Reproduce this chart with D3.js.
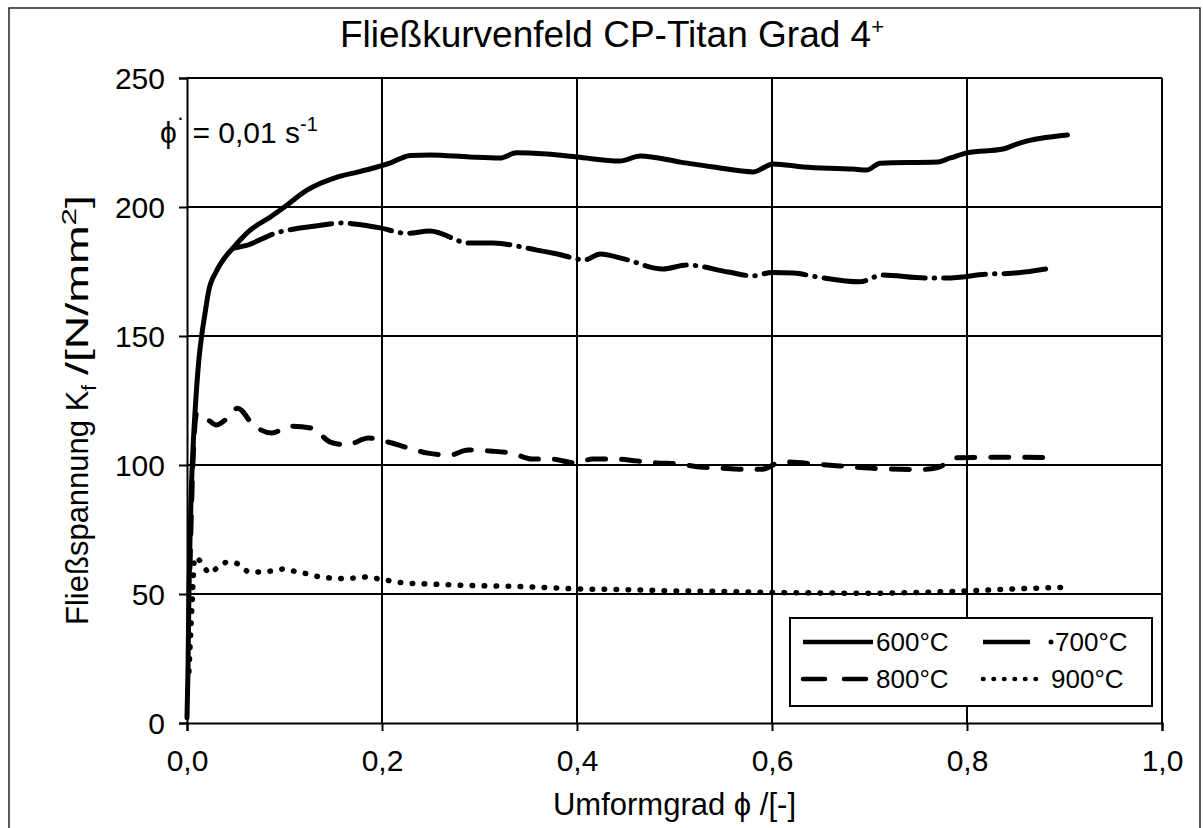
<!DOCTYPE html>
<html><head><meta charset="utf-8">
<script src="https://cdn.jsdelivr.net/npm/d3@7"></script>
<style>body{margin:0;background:#fff}svg{display:block}text{font-family:"Liberation Sans",Arial,sans-serif;fill:#000}</style>
</head><body><svg id="c" width="1203" height="828"></svg>
<script>
const xTicks=[0,0.2,0.4,0.6,0.8,1.0];
const yTicks=[0,50,100,150,200,250];
const legendLabels=["600°C","700°C","800°C","900°C"];
const phi600=[0,0.001,0.002,0.004,0.006,0.009,0.012,0.015,0.019,0.022,0.03,0.04,0.047,0.054,0.063,0.072,0.085,0.1,0.123,0.154,0.175,0.195,0.208,0.229,0.25,0.29,0.321,0.338,0.369,0.40,0.444,0.465,0.506,0.54,0.581,0.601,0.632,0.683,0.697,0.711,0.769,0.783,0.80,0.837,0.854,0.903];
const k600=[2,20,50,85,105,125,140,150,160,167,175,181,184,187,190.5,193,196,200,206.5,211.6,213.5,215.5,217,220,220.2,219.4,219,221,220.5,219.4,217.8,219.8,217.4,215.5,213.6,216.7,215.5,214.7,214.3,217,217.4,219,221,222.5,224.8,227.9];
const phi700=[0.047,0.06,0.092,0.11,0.13,0.159,0.18,0.198,0.225,0.249,0.29,0.314,0.359,0.38,0.408,0.424,0.447,0.488,0.513,0.555,0.58,0.6,0.622,0.646,0.69,0.713,0.757,0.779,0.822,0.846,0.888];
const k700=[184,185,190,191.5,192.5,193.8,193,191.9,189.8,190.7,186,186,183.3,181.8,179.5,181.8,180,176,177.5,174.8,173.3,174.6,174.4,172.9,171,173.6,172.5,172.5,174,174.3,176.4];
const phi800=[0.003,0.006,0.01,0.022,0.03,0.039,0.052,0.068,0.087,0.106,0.128,0.147,0.164,0.186,0.206,0.227,0.247,0.27,0.288,0.311,0.333,0.354,0.374,0.398,0.416,0.439,0.461,0.482,0.504,0.526,0.547,0.567,0.59,0.61,0.65,0.7,0.75,0.77,0.79,0.84,0.89];
const k800=[60,100,120,117.4,115.5,117.4,122,115.5,112.4,115,114.3,108.9,107.8,110.5,108.9,106.6,104.6,103.9,105.8,105.4,104.6,102.3,102.3,100.8,102.3,102.3,101.6,100.8,100.4,99.2,98.8,98.4,98.4,101.2,100.2,98.8,98.2,99,102.8,103,102.8];
const phi900=[0.002,0.005,0.008,0.016,0.023,0.032,0.042,0.053,0.064,0.076,0.088,0.1,0.113,0.124,0.136,0.148,0.16,0.172,0.184,0.197,0.21,0.222,0.246,0.3,0.35,0.4,0.45,0.5,0.55,0.6,0.65,0.7,0.75,0.8,0.85,0.9];
const k900=[20,45,64.3,61.6,58,60.5,62.4,61.6,58.5,58.5,59,59.7,58.5,57.8,56.6,56.2,56,56.2,56.6,55.8,55,54.3,53.9,53.2,52.8,52,51.7,51.2,51,50.6,50.4,50.3,50.6,51.2,52,52.6];

const svg=d3.select("#c");
const L=187,R=1162,T=78,B=723;
const x=d3.scaleLinear().domain([0,1]).range([L,R]);
const y=d3.scaleLinear().domain([0,250]).range([B,T]);
const fmt=d=>d3.format(".1f")(d).replace(".",",");

// outer frame
svg.append("rect").attr("x",9).attr("y",8).attr("width",1191).attr("height",840)
  .attr("fill","none").attr("stroke","#222").attr("stroke-width",1.5);

// grid
const g=svg.append("g");
g.selectAll(".hg").data(yTicks.filter(d=>d>0)).join("line")
  .attr("x1",L).attr("x2",R).attr("y1",d=>y(d)).attr("y2",d=>y(d))
  .attr("stroke","#000").attr("stroke-width",2);
g.selectAll(".vg").data(xTicks.filter(d=>d>0)).join("line")
  .attr("y1",T).attr("y2",B).attr("x1",d=>x(d)).attr("x2",d=>x(d))
  .attr("stroke","#000").attr("stroke-width",2);

// axes
const xa=svg.append("g").attr("transform",`translate(0,${B})`)
  .call(d3.axisBottom(x).tickValues(xTicks).tickFormat(fmt).tickSize(8).tickPadding(11));
const ya=svg.append("g").attr("transform",`translate(${L},0)`)
  .call(d3.axisLeft(y).tickValues(yTicks).tickSize(8).tickPadding(14));
[xa,ya].forEach(a=>{a.selectAll("path,line").attr("stroke","#000").attr("stroke-width",2);
  a.selectAll("text").style("font-size","30px").attr("fill","#000");});
xa.selectAll("text").attr("dy","0.95em");
ya.selectAll("text").attr("dy","0.36em");

// curves
const line=d3.line().x(d=>x(d[0])).y(d=>y(d[1])).curve(d3.curveMonotoneX);
const series=[
 {p:phi600,k:k600,dash:null,w:5},
 {p:phi700,k:k700,dash:"42,9,0.5,9",w:5},
 {p:phi800,k:k800,dash:"18,16",w:5},
 {p:phi900,k:k900,dash:"0.5,11.5",w:5.5}];
series.forEach(s=>{
  svg.append("path").datum(d3.zip(s.p,s.k)).attr("d",line)
   .attr("fill","none").attr("stroke","#000").attr("stroke-width",s.w)
   .attr("stroke-linecap","round").attr("stroke-linejoin","round")
   .attr("stroke-dasharray",s.dash);
});

// legend
const lg=svg.append("g");
lg.append("rect").attr("x",790).attr("y",618).attr("width",362).attr("height",88)
  .attr("fill","#fff").attr("stroke","#000").attr("stroke-width",2);
const ls=[
 {x1:803,x2:873,y:642,dash:null,tx:876},
 {x1:983,x2:1030,y:642,dash:null,tx:1055,dot:1051},
 {x1:803,x2:868,y:679,dash:"22,19",tx:876},
 {x1:983,x2:1045,y:679,dash:"0.5,10",tx:1051}];
ls.forEach((d,i)=>{
  lg.append("line").attr("x1",d.x1).attr("x2",d.x2).attr("y1",d.y).attr("y2",d.y)
   .attr("stroke","#000").attr("stroke-width",4.5).attr("stroke-linecap",d.dash?"round":"butt")
   .attr("stroke-dasharray",d.dash);
  if(d.dot) lg.append("circle").attr("cx",d.dot).attr("cy",d.y).attr("r",2.5).attr("fill","#000");
  lg.append("text").attr("x",d.tx).attr("y",d.y).attr("dy","0.36em")
   .style("font-size","26px").text(legendLabels[i]);
});

// title
const t=svg.append("text").attr("x",612).attr("y",47).attr("text-anchor","middle").style("font-size","37px");
t.append("tspan").text("Fließkurvenfeld CP-Titan Grad 4");
t.append("tspan").attr("dy",-13).style("font-size","22px").text("+");

// annotation
const a=svg.append("text").attr("x",160).attr("y",143).style("font-size","30px");
a.append("tspan").text("ϕ");
a.append("tspan").attr("dy",-18).style("font-size","22px").text("·");
a.append("tspan").attr("dy",18).text(" = 0,01 s");
a.append("tspan").attr("dy",-12).style("font-size","20px").text("-1");

// axis titles
svg.append("text").attr("x",(L+R)/2).attr("y",815).attr("text-anchor","middle")
  .style("font-size","31px").text("Umformgrad ϕ /[-]");
const yl=svg.append("text").attr("transform","translate(88,625) rotate(-90)")
  .attr("text-anchor","start").style("font-size","31px");
yl.append("tspan").text("Fließspannung K");
yl.append("tspan").attr("dy",8).style("font-size","21px").text("f");
const yl2=svg.append("text").attr("transform","translate(88,375) rotate(-90)")
  .attr("text-anchor","start").style("font-size","31px")
  .attr("textLength",180).attr("lengthAdjust","spacingAndGlyphs");
yl2.append("tspan").text("/[N/mm");
yl2.append("tspan").attr("dy",-12).style("font-size","21px").text("2");
yl2.append("tspan").attr("dy",12).text("]");
</script></body></html>
